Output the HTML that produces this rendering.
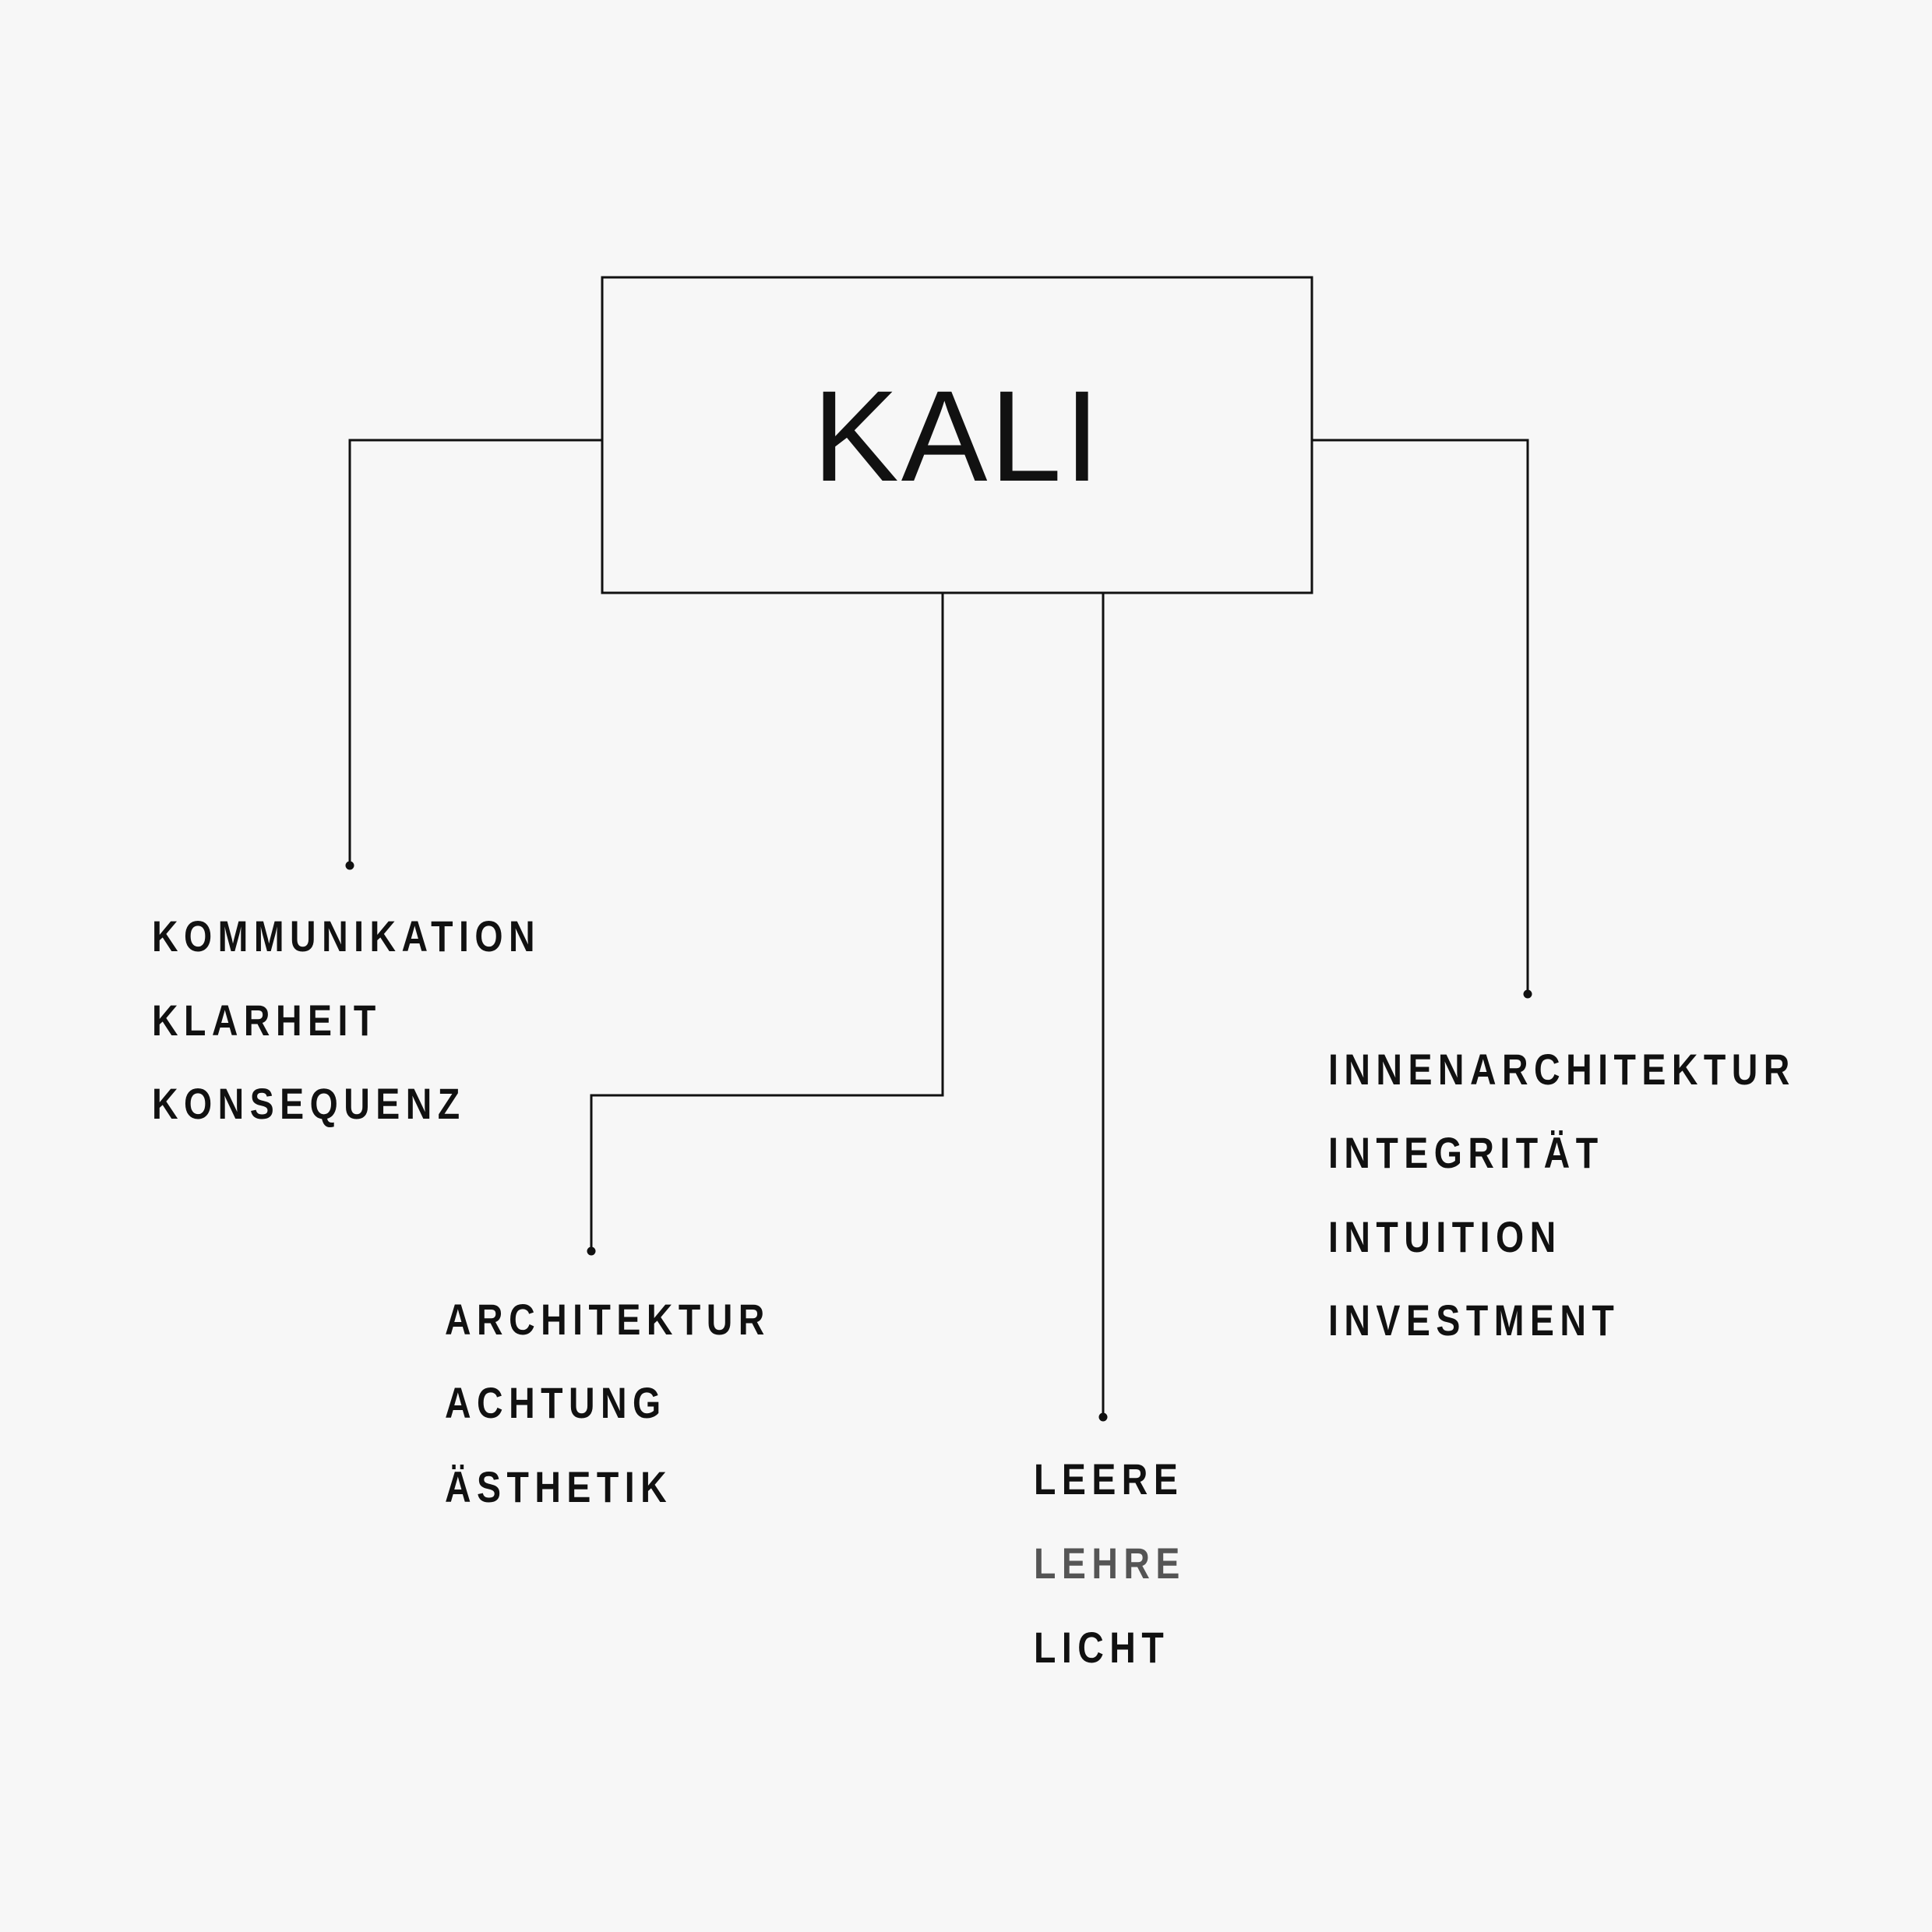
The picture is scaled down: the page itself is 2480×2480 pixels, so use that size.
<!DOCTYPE html>
<html><head><meta charset="utf-8"><style>
html,body{margin:0;padding:0;background:#f7f7f7;}
#c{position:relative;width:2480px;height:2480px;overflow:hidden;background:#f7f7f7;}
.t{position:absolute;font-family:"Liberation Sans",sans-serif;font-weight:bold;font-size:56px;line-height:56px;letter-spacing:9px;color:#111;white-space:nowrap;transform:scaleX(0.83);transform-origin:0 0;}
</style></head><body><div id="c">
<svg width="2480" height="2480" style="position:absolute;left:0;top:0">
<g fill="none" stroke="#111" stroke-width="3">
<rect x="773" y="356" width="911" height="405"/>
<polyline points="773,565 449,565 449,1110"/>
<polyline points="1210,761 1210,1406 759,1406 759,1605"/>
<polyline points="1416,761 1416,1819"/>
<polyline points="1684,565 1961,565 1961,1275"/>
</g>
<g fill="#111">
<circle cx="449" cy="1111" r="5.5"/>
<circle cx="759" cy="1606" r="5.5"/>
<circle cx="1416" cy="1819" r="5.5"/>
<circle cx="1961" cy="1276" r="5.5"/>
</g>
<text x="1229" y="617" text-anchor="middle" font-family="Liberation Sans, sans-serif" font-size="166" letter-spacing="3" fill="#111">KALI</text>
</svg>
<div class="t" style="left:195px;top:1174px">KOMMUNIKATION</div>
<div class="t" style="left:195px;top:1282px">KLARHEIT</div>
<div class="t" style="left:195px;top:1389px">KONSEQUENZ</div>
<div class="t" style="left:571px;top:1666px">ARCHITEKTUR</div>
<div class="t" style="left:571px;top:1773px">ACHTUNG</div>
<div class="t" style="left:571px;top:1881px">ÄSTHETIK</div>
<div class="t" style="left:1327px;top:1871px">LEERE</div>
<div class="t" style="left:1327px;top:1979px;color:#555">LEHRE</div>
<div class="t" style="left:1327px;top:2087px">LICHT</div>
<div class="t" style="left:1705px;top:1345px">INNENARCHITEKTUR</div>
<div class="t" style="left:1705px;top:1452px">INTEGRITÄT</div>
<div class="t" style="left:1705px;top:1560px">INTUITION</div>
<div class="t" style="left:1705px;top:1667px">INVESTMENT</div>
</div></body></html>
